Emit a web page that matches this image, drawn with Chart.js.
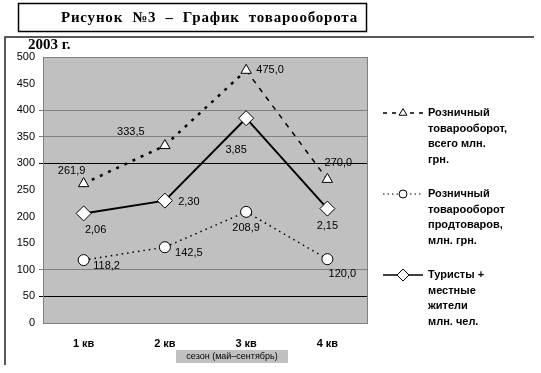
<!DOCTYPE html>
<html>
<head>
<meta charset="utf-8">
<script src="https://cdn.jsdelivr.net/npm/chart.js@4.4.0/dist/chart.umd.min.js"></script>
<style>
  html, body { margin:0; padding:0; background:#fff; }
  #wrap { width:541px; height:373px; position:relative; }
</style>
</head>
<body>
<div id="wrap"><canvas id="chart" width="541" height="373"></canvas></div>
<script>
// --- data
const QUARTERS = ['1 кв', '2 кв', '3 кв', '4 кв'];
const RETAIL_TOTAL = [261.9, 333.5, 475.0, 270.0];   // млн. грн.
const RETAIL_FOOD = [118.2, 142.5, 208.9, 120.0];    // млн. грн.
const TOURISTS = [2.06, 2.30, 3.85, 2.15];           // млн. чел.
const Y_TICKS = [0, 50, 100, 150, 200, 250, 300, 350, 400, 450, 500];
const LEGEND_TEXT = [
  ['Розничный', 'товарооборот,', 'всего млн.', 'грн.'],
  ['Розничный', 'товарооборот', 'продтоваров,', 'млн. грн.'],
  ['Туристы +', 'местные', 'жители', 'млн. чел.']
];
const TITLE = 'Рисунок  №3  –  График  товарооборота';
const YEAR = '2003 г.';
const SEASON = 'сезон (май–сентябрь)';

const SANS = '"Liberation Sans", Arial, sans-serif';
const SERIF = '"Liberation Serif", "Times New Roman", serif';

// label offsets from each point (px), per dataset
const labelOffsets = [
  [[-12,-13],[-34,-14],[24,0],[11,-16]],
  [[23,6],[24,6],[0,16],[15,15]],
  [[12,17],[24,1],[-10,32],[0,17]]
];

function fmt(v, d){ return v.toFixed(d).replace('.', ','); }

// --- background, frame, titles, labels, legend
const decor = {
  id: 'decor',
  beforeDraw(chart){
    const c = chart.ctx, a = chart.chartArea;
    c.save();
    c.fillStyle = '#fff';
    c.fillRect(0, 0, chart.width, chart.height);
    // title box
    c.strokeStyle = '#000'; c.lineWidth = 1.5;
    c.strokeRect(18.5, 3.5, 348, 28);
    c.fillStyle = '#000';
    c.font = 'bold 15px ' + SERIF;
    c.letterSpacing = '0.8px';
    c.textAlign = 'right'; c.textBaseline = 'middle';
    c.fillText(TITLE, 358, 18);
    c.letterSpacing = '0px';
    // outer frame (only top and left visible)
    c.strokeStyle = '#222'; c.lineWidth = 1.5;
    c.beginPath();
    c.moveTo(5, 365); c.lineTo(5, 37); c.lineTo(534, 37);
    c.stroke();
    c.font = 'bold 15px ' + SERIF;
    c.textAlign = 'left';
    c.fillText(YEAR, 28, 45);
    // plot area
    c.fillStyle = '#c0c0c0';
    c.fillRect(a.left, a.top, a.right - a.left, a.bottom - a.top);
    c.restore();
  },
  beforeDatasetsDraw(chart){
    const c = chart.ctx, a = chart.chartArea;
    c.save();
    c.strokeStyle = '#808080'; c.lineWidth = 1;
    c.strokeRect(a.left + 0.5, a.top + 0.5, a.right - a.left - 1, a.bottom - a.top);
    c.restore();
  },
  afterDatasetsDraw(chart){
    const c = chart.ctx;
    c.save();
    c.fillStyle = '#000';
    c.font = '11px ' + SANS;
    c.textAlign = 'center'; c.textBaseline = 'middle';
    chart.data.datasets.forEach((ds, i) => {
      const meta = chart.getDatasetMeta(i);
      meta.data.forEach((pt, j) => {
        const o = labelOffsets[i][j];
        c.fillText(fmt(ds.data[j], ds.decimals), pt.x + o[0], pt.y + o[1]);
      });
    });
    // season box
    c.fillStyle = '#c0c0c0';
    c.fillRect(176, 350, 112, 13);
    c.fillStyle = '#000';
    c.font = '9px ' + SANS;
    c.fillText(SEASON, 232, 357);
    // legend
    const tops = [113, 194, 275];
    chart.data.datasets.forEach((ds, i) => {
      const y = tops[i];
      c.save();
      c.strokeStyle = '#000';
      c.lineWidth = ds.legendWidth;
      c.setLineDash(ds.legendDash);
      c.beginPath(); c.moveTo(383, y); c.lineTo(423, y); c.stroke();
      c.restore();
      c.save();
      c.fillStyle = '#fff'; c.strokeStyle = '#000'; c.lineWidth = 1;
      Chart.helpers.drawPoint(c, {
        pointStyle: ds.pointStyle, radius: ds.pointRadius - 1.5, borderWidth: 1
      }, 403, y);
      c.restore();
      c.fillStyle = '#000';
      c.font = 'bold 11px ' + SANS;
      c.textAlign = 'left'; c.textBaseline = 'middle';
      LEGEND_TEXT[i].forEach((t, k) => c.fillText(t, 428, y + k * 15.5));
    });
    c.restore();
  }
};

function gridColor(ctx){
  const v = ctx.tick && ctx.tick.value;
  if (v === 300 || v === 50) return '#000';
  if (v === 400 || v === 350 || v === 100) return '#808080';
  return 'rgba(0,0,0,0)';
}

new Chart(document.getElementById('chart'), {
  type: 'line',
  data: {
    labels: QUARTERS,
    datasets: [
      {
        label: 'Розничный товарооборот, всего млн. грн.',
        data: RETAIL_TOTAL, yAxisID: 'y', decimals: 1,
        borderColor: '#000', borderWidth: 2.5, borderDash: [3, 6],
        segment: {
          borderWidth: ctx => ctx.p0DataIndex === 2 ? 1.5 : 2.5,
          borderDash: ctx => ctx.p0DataIndex === 2 ? [5, 6] : [3, 6]
        },
        pointStyle: 'triangle', pointRadius: 6, pointBorderWidth: 1,
        pointBackgroundColor: '#fff', pointBorderColor: '#000',
        legendWidth: 1.5, legendDash: [4, 5],
        tension: 0, fill: false
      },
      {
        label: 'Розничный товарооборот продтоваров, млн. грн.',
        data: RETAIL_FOOD, yAxisID: 'y', decimals: 1,
        borderColor: '#000', borderWidth: 1.5, borderDash: [1.5, 4],
        pointStyle: 'circle', pointRadius: 5.5, pointBorderWidth: 1,
        pointBackgroundColor: '#fff', pointBorderColor: '#000',
        legendWidth: 1, legendDash: [1.5, 3],
        tension: 0, fill: false
      },
      {
        label: 'Туристы + местные жители млн. чел.',
        data: TOURISTS, yAxisID: 'y2', decimals: 2,
        borderColor: '#000', borderWidth: 2,
        pointStyle: 'rectRot', pointRadius: 7.5, pointBorderWidth: 1,
        pointBackgroundColor: '#fff', pointBorderColor: '#000',
        legendWidth: 1.5, legendDash: [],
        tension: 0, fill: false
      }
    ]
  },
  options: {
    responsive: false,
    animation: false,
    devicePixelRatio: 1,
    layout: { padding: { left: 0, top: 57, right: 173, bottom: 0 } },
    plugins: { legend: { display: false }, title: { display: false }, tooltip: { enabled: false } },
    scales: {
      x: {
        offset: true,
        grid: { display: false },
        border: { display: false },
        ticks: { color: '#000', font: { family: SANS, size: 11, weight: 'bold' }, padding: 6 },
        afterFit: s => { s.height = 50; }
      },
      y: {
        min: 0, max: 500,
        afterBuildTicks: s => { s.ticks = Y_TICKS.map(v => ({ value: v })); },
        grid: { color: gridColor, lineWidth: 1, tickLength: 4 },
        border: { display: false },
        ticks: { color: '#000', font: { family: SANS, size: 11 }, padding: 4 },
        afterFit: s => { s.width = 43; }
      },
      y2: { display: false, min: 0, max: 5 }
    }
  },
  plugins: [decor]
});
</script>
</body>
</html>
